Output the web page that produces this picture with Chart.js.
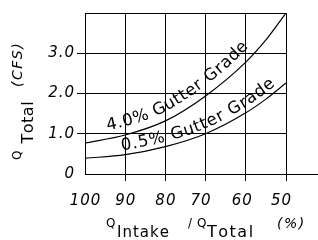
<!DOCTYPE html>
<html>
<head>
<meta charset="utf-8">
<script src="https://cdn.jsdelivr.net/npm/chart.js@4.4.1/dist/chart.umd.min.js"></script>
<style>
  html, body { margin: 0; padding: 0; background: #fff; }
  #wrap { width: 318px; height: 240px; }
</style>
</head>
<body>
<div id="wrap"><canvas id="chart" width="318" height="240"></canvas></div>
<script>
// Q_Intake / Q_Total (%) ; axis runs 100 -> 50
const intakeRatio = [100, 90, 80, 70, 60, 55, 50];
// Q_Total (CFS) for each gutter grade
const grade40 = [0.77, 0.97, 1.32, 1.94, 2.78, 3.33, 4.00];
const grade05 = [0.39, 0.48, 0.68, 1.00, 1.52, 1.86, 2.26];
const curveLabels = ['4.0% Gutter Grade', '0.5% Gutter Grade'];
const xTicks = [100, 90, 80, 70, 60, 50];
const yTicks = [0, 1, 2, 3, 4];

// the original's x labels sit a little left of their grid lines on the right half
const xLabelNudge = [0, 0, 0, -5, -4, -5];

const FONT = "'DejaVu Sans', sans-serif";

function toPoints(ys) {
    return intakeRatio.map((x, i) => ({ x: x, y: ys[i] }));
}

// draw a string char by char with extra spacing, returns end x
function spaced(ctx, str, x, y, sp) {
    for (const ch of str) {
        ctx.fillText(ch, x, y);
        x += ctx.measureText(ch).width + sp;
    }
    return x;
}

// sample the bezier curve chart.js drew for a dataset
function curvePath(chart, idx) {
    const pts = chart.getDatasetMeta(idx).data;
    const poly = [];
    for (let i = 0; i < pts.length - 1; i++) {
        const a = pts[i], b = pts[i + 1];
        const c1x = a.cp2x ?? a.x, c1y = a.cp2y ?? a.y;
        const c2x = b.cp1x ?? b.x, c2y = b.cp1y ?? b.y;
        for (let k = 0; k < 30; k++) {
            const t = k / 30, m = 1 - t;
            poly.push({
                x: m*m*m*a.x + 3*m*m*t*c1x + 3*m*t*t*c2x + t*t*t*b.x,
                y: m*m*m*a.y + 3*m*m*t*c1y + 3*m*t*t*c2y + t*t*t*b.y
            });
        }
    }
    const last = pts[pts.length - 1];
    poly.push({ x: last.x, y: last.y });
    let s = 0;
    poly[0].s = 0;
    for (let i = 1; i < poly.length; i++) {
        s += Math.hypot(poly[i].x - poly[i-1].x, poly[i].y - poly[i-1].y);
        poly[i].s = s;
    }
    return poly;
}

function pointAt(poly, s) {
    let i = 1;
    while (i < poly.length - 1 && poly[i].s < s) i++;
    const a = poly[i-1], b = poly[i];
    const f = (s - a.s) / ((b.s - a.s) || 1);
    return { x: a.x + (b.x - a.x) * f, y: a.y + (b.y - a.y) * f, ang: Math.atan2(b.y - a.y, b.x - a.x) };
}

function textOnCurve(ctx, chart, idx, text, startX, offset, sp) {
    const poly = curvePath(chart, idx);
    let s = poly.find(p => p.x >= startX).s;
    ctx.textAlign = 'center';
    for (const ch of text) {
        const w = ctx.measureText(ch).width;
        const p = pointAt(poly, s + w / 2);
        const px = p.x + Math.sin(p.ang) * offset;
        const py = p.y - Math.cos(p.ang) * offset;
        ctx.save();
        ctx.translate(px, py);
        ctx.rotate(p.ang);
        ctx.fillText(ch, 0, 0);
        ctx.restore();
        s += w + sp;
    }
}

const decorPlugin = {
    id: 'decor',
    beforeDraw(chart) {
        // wide tick lettering like the original
        chart.ctx.letterSpacing = '1px';
    },
    afterDraw(chart) {
        const ctx = chart.ctx;
        const area = chart.chartArea;
        const xs = chart.scales.x;
        ctx.save();
        ctx.fillStyle = '#000';
        ctx.strokeStyle = '#000';
        ctx.lineWidth = 1;

        // x tick labels
        ctx.font = 'italic 15px ' + FONT;
        ctx.textAlign = 'center';
        ctx.textBaseline = 'middle';
        xTicks.forEach((v, i) => {
            ctx.fillText(String(v), xs.getPixelForValue(v) + xLabelNudge[i] + 0.5, 201);
        });
        ctx.letterSpacing = '0px';

        // x axis line runs past the plot to the edge
        ctx.beginPath();
        ctx.moveTo(area.right, Math.round(area.bottom) + 0.5);
        ctx.lineTo(chart.width, Math.round(area.bottom) + 0.5);
        ctx.stroke();

        // curve labels
        ctx.textBaseline = 'alphabetic';
        ctx.font = '16.5px ' + FONT;
        textOnCurve(ctx, chart, 0, curveLabels[0], 109, 8.5, 1);
        textOnCurve(ctx, chart, 1, curveLabels[1], 122, 5, 1);

        // y axis title (rotated)
        ctx.textAlign = 'left';
        ctx.save();
        ctx.rotate(-Math.PI / 2);
        ctx.font = '12px ' + FONT;
        ctx.fillText('Q', -160, 21);
        ctx.font = '16px ' + FONT;
        spaced(ctx, 'Total', -143.5, 33, 0.5);
        ctx.font = 'italic 14px ' + FONT;
        spaced(ctx, '(CFS)', -87, 22, 1.5);
        ctx.restore();

        // x axis title
        ctx.font = '12px ' + FONT;
        ctx.fillText('Q', 106, 227);
        ctx.fillText('/', 188, 227);
        ctx.fillText('Q', 197, 227);
        ctx.font = '15px ' + FONT;
        spaced(ctx, 'Intake', 117, 237, 1);
        ctx.font = '16px ' + FONT;
        spaced(ctx, 'Total', 207, 237, 1.5);
        ctx.font = 'italic 14px ' + FONT;
        spaced(ctx, '(%)', 277, 228, 1.5);
        ctx.restore();
    }
};

new Chart(document.getElementById('chart'), {
    type: 'line',
    data: {
        datasets: [
            { label: curveLabels[0], data: toPoints(grade40) },
            { label: curveLabels[1], data: toPoints(grade05) }
        ]
    },
    options: {
        responsive: false,
        animation: false,
        layout: { padding: { top: 13, right: 32, left: 0, bottom: 0 } },
        elements: {
            point: { radius: 0 },
            line: { borderColor: '#000', borderWidth: 1.2, cubicInterpolationMode: 'monotone', fill: false }
        },
        plugins: { legend: { display: false }, tooltip: { enabled: false } },
        scales: {
            x: {
                type: 'linear',
                reverse: true,
                min: 50,
                max: 100,
                afterFit: s => { s.height = 66; },
                afterBuildTicks: s => { s.ticks = xTicks.map(v => ({ value: v })); },
                grid: {
                    color: '#000',
                    lineWidth: 1,
                    tickLength: 7,
                    tickColor: c => (c.tick && c.tick.value === 100) ? 'rgba(0,0,0,0)' : '#000'
                },
                border: { color: '#000' },
                ticks: { display: false }
            },
            y: {
                min: 0,
                max: 4,
                afterFit: s => { s.width = 85; },
                afterBuildTicks: s => { s.ticks = yTicks.map(v => ({ value: v })); },
                grid: {
                    color: '#000',
                    lineWidth: 1,
                    tickLength: 8,
                    tickColor: c => (c.tick && (c.tick.value === 0 || c.tick.value === 4)) ? 'rgba(0,0,0,0)' : '#000'
                },
                border: { color: '#000' },
                ticks: {
                    color: '#000',
                    padding: 2,
                    font: { family: FONT, size: 15, style: 'italic' },
                    callback: v => v === 0 ? '0' : (v === 4 ? '' : v.toFixed(1))
                }
            }
        }
    },
    plugins: [decorPlugin]
});
</script>
</body>
</html>
